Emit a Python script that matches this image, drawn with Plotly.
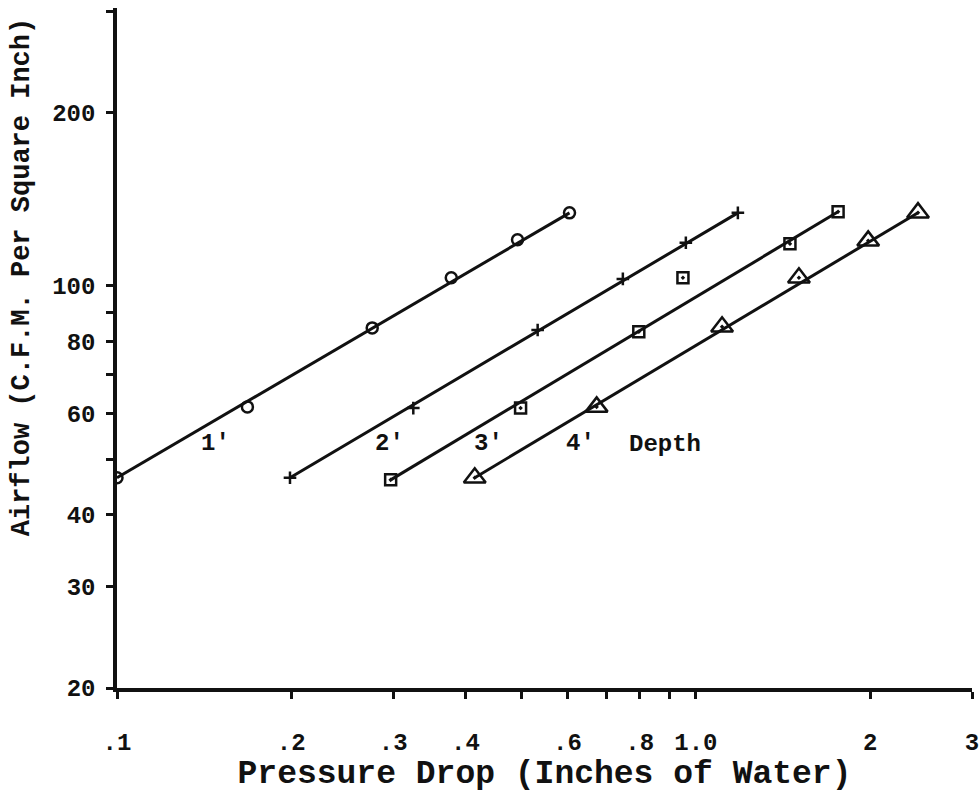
import math
import plotly.graph_objects as go

# Pressure drop (inches of water) and airflow (CFM per sq inch) by filter depth
x1 = [0.100, 0.168, 0.276, 0.378, 0.492, 0.605]
y1 = [46.4, 61.6, 84.5, 103.3, 120.2, 133.9]

x2 = [0.199, 0.325, 0.533, 0.748, 0.961, 1.182]
y2 = [46.4, 61.3, 83.8, 102.8, 118.8, 133.9]

x3 = [0.297, 0.498, 0.797, 0.950, 1.454, 1.761]
y3 = [46.0, 61.3, 83.2, 103.3, 118.3, 134.5]
fit3 = [0, 1, 2, 4, 5]  # points on the drawn line (0.95 is an off-line point)

x4 = [0.415, 0.674, 1.110, 1.507, 1.985, 2.420]
y4 = [46.4, 61.6, 84.9, 103.3, 119.7, 134.0]

depth_labels = ["1'", "2'", "3'", "4'", "Depth"]
label_x = [0.1478, 0.2955, 0.4385, 0.632, 0.884]
label_y = [53.3, 53.3, 53.3, 53.3, 53.0]

x_tickvals = [0.1, 0.2, 0.3, 0.4, 0.5, 0.6, 0.7, 0.8, 0.9, 1.0, 2, 3]
x_ticktext = [".1", ".2", ".3", ".4", "", ".6", "", ".8", "", "1.0", "2", "3"]
y_tickvals = [20, 30, 40, 50, 60, 70, 80, 90, 100, 200, 300]
y_ticktext = ["20", "30", "40", "", "60", "", "80", "", "100", "200", ""]

X_TITLE = "Pressure Drop (Inches of Water)"
Y_TITLE = "Airflow (C.F.M. Per Square Inch)"

FONT = "Liberation Mono"
BLACK = "#111111"

fig = go.Figure()

series = [
    (x1, y1, list(range(len(x1))), "circle-open", 11),
    (x2, y2, list(range(len(x2))), "cross-thin", 9),
    (x3, y3, fit3, "square-open-dot", 11),
    (x4, y4, list(range(len(x4))), "triangle-up-open-dot", 19),
]

for xs, ys, idx, sym, size in series:
    fig.add_trace(go.Scatter(
        x=[xs[idx[0]], xs[idx[-1]]], y=[ys[idx[0]], ys[idx[-1]]],
        mode="lines", line=dict(color=BLACK, width=3),
        showlegend=False, hoverinfo="skip"))
    fig.add_trace(go.Scatter(
        x=xs, y=ys, mode="markers",
        marker=dict(symbol=sym, size=size, color=BLACK,
                    line=dict(color=BLACK, width=2.5)),
        showlegend=False))

for t, lx, ly in zip(depth_labels, label_x, label_y):
    fig.add_annotation(x=math.log10(lx), y=math.log10(ly), xref="x", yref="y", text=t,
                       showarrow=False, xanchor="center", yanchor="middle",
                       font=dict(family=FONT, size=24, color=BLACK, weight="bold"))

# vertical y-axis title, placed as in the original (above centre)
fig.add_annotation(x=22, xref="paper", xanchor="center", y=0.604, yref="paper",
                   yanchor="middle", text=Y_TITLE, textangle=-90, showarrow=False,
                   font=dict(family=FONT, size=27, color=BLACK, weight="bold"))
fig.layout.annotations[-1].x = -95 / 855.0

fig.update_xaxes(
    type="log", range=[-1, 0.4771], automargin=False,
    tickmode="array", tickvals=x_tickvals, ticktext=x_ticktext,
    ticks="outside", ticklen=7, tickwidth=2.5, tickcolor=BLACK,
    ticklabelstandoff=22,
    showline=True, linewidth=3.5, linecolor=BLACK,
    showgrid=False, zeroline=False,
    tickfont=dict(family=FONT, size=24, color=BLACK, weight="bold"),
    title=dict(text=X_TITLE,
               font=dict(family=FONT, size=33, color=BLACK, weight="bold"), standoff=6),
)
fig.update_yaxes(
    type="log", range=[1.30103, 2.4828], automargin=False,
    tickmode="array", tickvals=y_tickvals, ticktext=y_ticktext,
    ticks="outside", ticklen=7, tickwidth=2.5, tickcolor=BLACK,
    ticklabelstandoff=6,
    showline=True, linewidth=3.5, linecolor=BLACK,
    showgrid=False, zeroline=False,
    tickfont=dict(family=FONT, size=24, color=BLACK, weight="bold"),
)

fig.update_layout(
    width=980, height=793,
    margin=dict(l=117, r=8, t=8, b=105),
    paper_bgcolor="white", plot_bgcolor="white",
    font=dict(family=FONT, color=BLACK),
)

fig.write_html("out.html")
